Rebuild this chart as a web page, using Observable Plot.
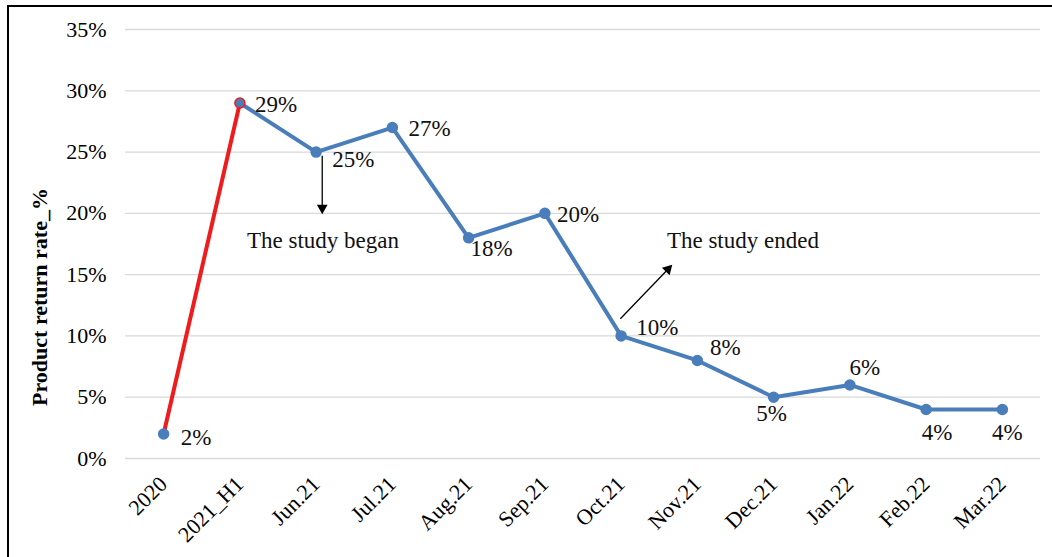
<!DOCTYPE html>
<html>
<head>
<meta charset="utf-8">
<script src="https://cdn.jsdelivr.net/npm/d3@7"></script>
<script src="https://cdn.jsdelivr.net/npm/@observablehq/plot@0.6"></script>
<style>
  html, body { margin: 0; padding: 0; background: #fff; }
  #wrap { position: relative; width: 1052px; height: 557px; overflow: hidden; }
  #frame { position: absolute; left: 7px; top: 5px; width: 1200px; height: 700px; border-left: 2px solid #000; border-top: 2px solid #000; pointer-events: none; }
  #ytitle { position: absolute; left: 40px; top: 297px; transform: translate(-50%, -50%) rotate(-90deg); white-space: nowrap; font-family: "Liberation Serif", serif; font-weight: bold; font-size: 22px; color: #000; }
</style>
</head>
<body>
<div id="wrap">
  <div id="chart"></div>
  <div id="frame"></div>
  <div id="ytitle">Product return rate_%</div>
</div>
<script>
const categories = ["2020","2021_H1","Jun.21","Jul.21","Aug.21","Sep.21","Oct.21","Nov.21","Dec.21","Jan.22","Feb.22","Mar.22"];
const returnRate = [2, 29, 25, 27, 18, 20, 10, 8, 5, 6, 4, 4];
const yTicks = [0, 5, 10, 15, 20, 25, 30, 35];
const annotationLabels = ["The study began", "The study ended"];

const data = categories.map((c, i) => ({i, c, v: returnRate[i]}));
const redPart = data.slice(0, 2);
const bluePart = data.slice(1);

// label nudges (dx, dy, anchor) by category
const nudge = {
  "2020": [17, 4, "start"], "2021_H1": [15, 2, "start"], "Jun.21": [16, 8, "start"],
  "Jul.21": [16, 1, "start"], "Aug.21": [23, 11, "middle"], "Sep.21": [12, 1, "start"],
  "Oct.21": [15, -8, "start"], "Nov.21": [28, -13, "middle"], "Dec.21": [-2, 16, "middle"],
  "Jan.22": [15, -17, "middle"], "Feb.22": [11, 23, "middle"], "Mar.22": [5, 23, "middle"]
};

const blue = "#4a7ebb";
const red = "#ee1c1c";

const arrowBegan = [{x1: 2.08, y1: 24.7, x2: 2.08, y2: 20.2}];
const arrowEnded = [{x1: 5.99, y1: 11.4, x2: 6.64, y2: 15.6}];
const noteBegan = [{x: 2.09, y: 17.8, text: annotationLabels[0]}];
const noteEnded = [{x: 6.60, y: 17.8, text: annotationLabels[1]}];

const plot = Plot.plot({
  width: 1052,
  height: 557,
  marginLeft: 125,
  marginRight: 12,
  marginTop: 29,
  marginBottom: 99,
  style: {fontFamily: "Liberation Serif, serif", fontSize: "22px", color: "#000", background: "transparent"},
  x: {type: "linear", domain: [-0.5, 11.5]},
  y: {domain: [0, 35]},
  marks: [
    Plot.gridY(yTicks, {stroke: "#d9d9d9", strokeOpacity: 1, strokeWidth: 1.3}),
    Plot.axisY(yTicks, {tickSize: 0, tickPadding: 19, tickFormat: d => d + "%", fontSize: 22, label: null}),
    Plot.axisX(d3.range(categories.length), {tickSize: 0, tickPadding: 22, tickRotate: -45, tickFormat: i => categories[i], fontSize: 22, label: null}),
    Plot.line(redPart, {x: "i", y: "v", stroke: red, strokeWidth: 4}),
    Plot.line(bluePart, {x: "i", y: "v", stroke: blue, strokeWidth: 4}),
    Plot.dot(data, {x: "i", y: "v", r: 5, fill: blue, stroke: d => d.c === "2021_H1" ? red : blue, strokeWidth: 1.5}),
    ...data.map(d => Plot.text([d], {x: "i", y: "v", text: d => d.v + "%", dx: nudge[d.c][0], dy: nudge[d.c][1], textAnchor: nudge[d.c][2], fontSize: 23, fill: "#111"})),
    Plot.link(arrowBegan, {x1: "x1", y1: "y1", x2: "x2", y2: "y2", stroke: "#000", strokeWidth: 1.3}),
    Plot.link(arrowEnded, {x1: "x1", y1: "y1", x2: "x2", y2: "y2", stroke: "#000", strokeWidth: 1.3}),
    Plot.dot(arrowBegan, {x: "x2", y: "y2", symbol: "triangle", r: 4, fill: "#000", rotate: 180, dy: -3}),
    Plot.dot(arrowEnded, {x: "x2", y: "y2", symbol: "triangle", r: 4, fill: "#000", rotate: 44, dx: -2, dy: 2}),
    Plot.text(noteBegan, {x: "x", y: "y", text: "text", textAnchor: "middle", fontSize: 23, fill: "#111"}),
    Plot.text(noteEnded, {x: "x", y: "y", text: "text", textAnchor: "start", fontSize: 23, fill: "#111"})
  ]
});
document.getElementById("chart").appendChild(plot);
</script>
</body>
</html>
